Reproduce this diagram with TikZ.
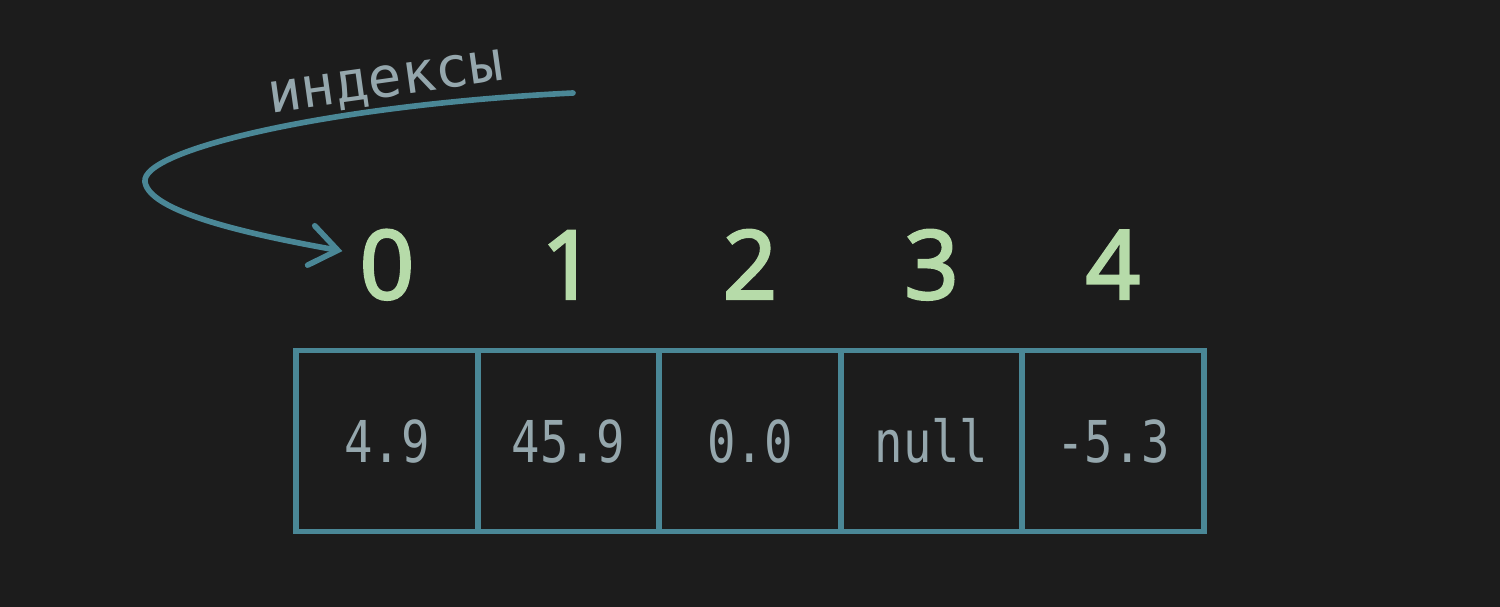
\documentclass[tikz,border=0pt]{standalone}
\usepackage{fontspec}
\usetikzlibrary{positioning,arrows.meta}
\newfontfamily\cellfont[FakeStretch=0.82]{DejaVu Sans Mono}
\newfontfamily\labelfont{DejaVu Sans Mono}
\newfontfamily\indexfont[FakeBold=3]{Open Sans}
\definecolor{bgcol}{HTML}{1C1C1C}
\definecolor{linecol}{HTML}{4A8796}
\definecolor{valcol}{HTML}{95A7AD}
\definecolor{idxcol}{HTML}{B6DBA9}
\tikzset{
  cell/.style={draw=linecol, line width=1.6pt, outer sep=0pt, inner sep=0pt,
    minimum width=1.814cm, minimum height=1.81cm, text height=0.42cm, text depth=0pt,
    text=valcol, font=\cellfont\fontsize{16.4}{20}\selectfont},
  index/.style={inner sep=0pt, text depth=0pt, text=idxcol,
    font=\indexfont\fontsize{27}{30}\selectfont},
  pointer/.style={draw=linecol, line width=1.6pt, line cap=round,
    -{Straight Barb[length=0.27cm,width=0.4cm,line cap=round]}}
}
\begin{document}
\begin{tikzpicture}[x=0.01cm, y=-0.01cm]
      \fill[bgcol] (0,0) rectangle (1500,607);
      \node[cell] (c0) at (387,441) {4.9};
      \node[cell, right=0pt of c0] (c1) {45.9};
      \node[cell, right=0pt of c1] (c2) {0.0};
      \node[cell, right=0pt of c2] (c3) {null};
      \node[cell, right=0pt of c3] (c4) {-5.3};
      \node[index, above=0.51cm of c0] (i0) {0};
      \node[index, above=0.51cm of c1] (i1) {1};
      \node[index, above=0.51cm of c2] (i2) {2};
      \node[index, above=0.51cm of c3] (i3) {3};
      \node[index, above=0.51cm of c4] (i4) {4};
      \node[rotate=8, text=valcol, font=\labelfont\fontsize{16}{18}\selectfont]
        (lbl) at (386,85) {индексы};
      \coordinate (start) at (573,93);
      \begin{scope}
        \draw[pointer, shorten >=0.17cm] (start) .. controls (330,105) and (140,150) .. (145,182)
          .. controls (150,215) and (270,238) .. (i0.160);
      \end{scope}
    \end{tikzpicture}
\end{document}
